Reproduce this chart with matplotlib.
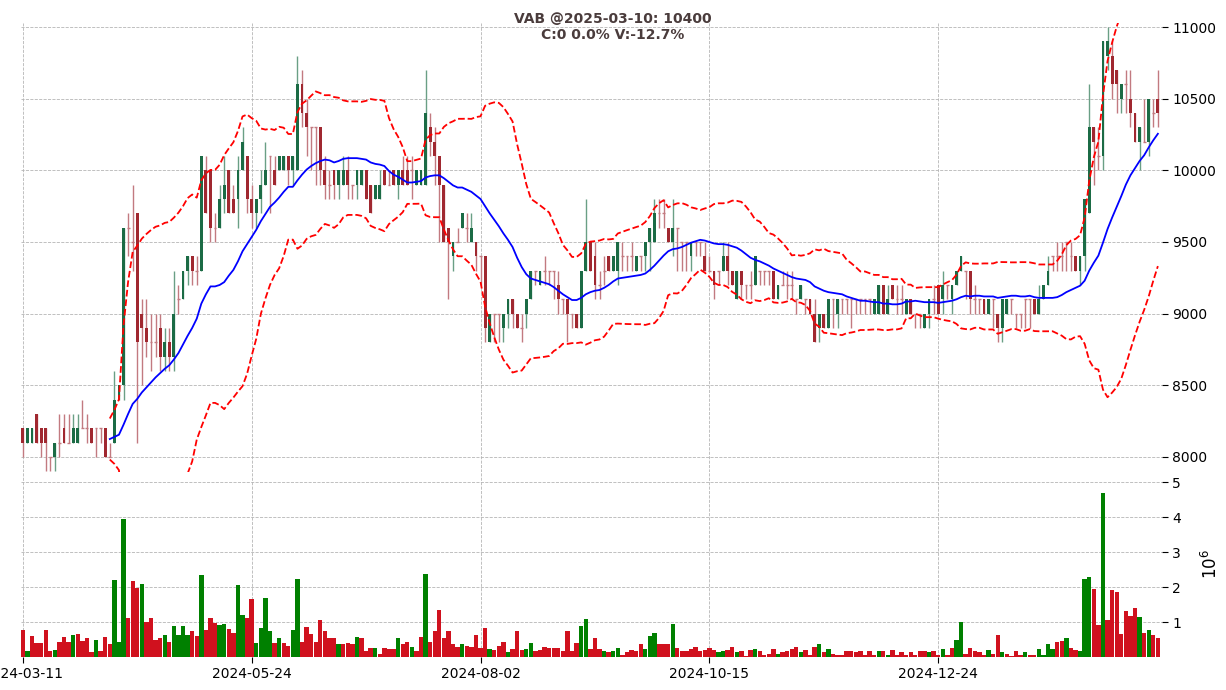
import matplotlib
matplotlib.use('Agg')
import matplotlib.pyplot as plt
import numpy as np
import pandas as pd

ticker = "VAB"
holidays = ["2024-04-18", "2024-04-29", "2024-04-30", "2024-05-01", "2024-09-02", "2024-09-03",
            "2025-01-01", "2025-01-27", "2025-01-28", "2025-01-29", "2025-01-30", "2025-01-31"]
dates = pd.bdate_range("2024-03-11", "2025-03-10", freq="C", holidays=holidays)

# OHLC, one row = 10 sessions
open_ = [8200, 8100, 8100, 8300, 8200, 8200, 8000, 8000, 8100, 8200,
         8100, 8100, 8100, 8200, 8200, 8200, 8200, 8200, 8200, 8000,
         8100, 8400, 8500, 9600, 9500, 9700, 9000, 8900, 8800, 8800,
         8900, 8700, 8800, 8700, 9100, 9100, 9300, 9400, 9300, 9300,
         10000, 10000, 9600, 9600, 9800, 10000, 9800, 9800, 10000, 10100,
         9800, 9700, 9800, 9900, 10100, 10000, 10000, 10000, 10100, 10000,
         10000, 10600, 10400, 10300, 10300, 10300, 10000, 9900, 10000, 9900,
         9900, 10000, 9900, 9900, 9900, 10000, 9900, 9800, 9800, 10000,
         9900, 10000, 9900, 10000, 10000, 10000, 9900, 9900, 9900, 10300,
         10200, 10100, 9900, 9600, 9400, 9500, 9600, 9600, 9500, 9500,
         9400, 9400, 8800, 9000, 9000, 8900, 9000, 9100, 9000, 8900,
         9000, 9100, 9300, 9200, 9300, 9300, 9300, 9200, 9100, 9100,
         9000, 9000, 8900, 9300, 9500, 9400, 9200, 9300, 9400, 9300,
         9300, 9400, 9400, 9400, 9300, 9400, 9400, 9500, 9500, 9700,
         9700, 9600, 9500, 9600, 9500, 9500, 9400, 9500, 9500, 9400,
         9300, 9300, 9300, 9300, 9400, 9300, 9100, 9300, 9200, 9200,
         9200, 9300, 9300, 9300, 9300, 9100, 9200, 9200, 9200, 9100,
         9100, 9100, 9100, 9000, 8900, 9000, 8900, 9100, 9000, 9100,
         9100, 9100, 9100, 9100, 9100, 9100, 9000, 9000, 9200, 9000,
         9200, 9100, 9100, 9000, 9100, 9000, 9000, 8900, 9000, 9100,
         9200, 9100, 9200, 9100, 9200, 9300, 9300, 9300, 9100, 9100,
         9100, 9000, 9100, 9000, 8900, 9000, 9100, 9000, 9000, 9100,
         9100, 9100, 9000, 9100, 9200, 9400, 9400, 9400, 9500, 9400,
         9400, 9300, 9400, 9700, 10300, 10100, 10100, 10800, 10800, 10700,
         10500, 10600, 10500, 10400, 10200, 10200, 10200, 10400, 10500]
high = [8200, 8200, 8200, 8300, 8200, 8200, 8000, 8100, 8300, 8300,
        8300, 8300, 8300, 8400, 8300, 8200, 8200, 8200, 8200, 8100,
        8600, 8500, 9600, 9700, 9900, 9700, 9100, 9100, 9000, 9000,
        9000, 8900, 8900, 9300, 9200, 9300, 9400, 9400, 9400, 10100,
        10100, 10000, 9700, 9900, 10100, 10000, 9900, 10100, 10300, 10100,
        9900, 9800, 10000, 10200, 10100, 10100, 10100, 10100, 10100, 10100,
        10800, 10700, 10500, 10300, 10300, 10300, 10100, 10000, 10000, 10000,
        10100, 10100, 9900, 10000, 10000, 10000, 9900, 9900, 10000, 10000,
        10000, 10000, 10000, 10100, 10100, 10100, 10000, 10000, 10700, 10400,
        10300, 10100, 9900, 9600, 9500, 9600, 9700, 9700, 9700, 9500,
        9400, 9400, 9000, 9000, 9000, 9000, 9100, 9100, 9000, 9000,
        9100, 9300, 9300, 9300, 9400, 9300, 9300, 9300, 9100, 9100,
        9000, 9000, 9300, 9800, 9500, 9500, 9300, 9400, 9400, 9400,
        9500, 9500, 9400, 9500, 9400, 9400, 9500, 9600, 9800, 9800,
        9800, 9600, 9800, 9600, 9500, 9500, 9500, 9500, 9500, 9500,
        9400, 9300, 9300, 9500, 9500, 9300, 9300, 9300, 9200, 9300,
        9400, 9300, 9300, 9300, 9300, 9200, 9300, 9300, 9300, 9100,
        9200, 9100, 9100, 9100, 9000, 9000, 9100, 9100, 9100, 9100,
        9100, 9100, 9100, 9100, 9100, 9100, 9100, 9200, 9200, 9200,
        9200, 9200, 9200, 9100, 9100, 9000, 9000, 9000, 9100, 9200,
        9200, 9300, 9200, 9200, 9300, 9400, 9300, 9300, 9200, 9100,
        9100, 9100, 9100, 9000, 9100, 9100, 9100, 9000, 9000, 9100,
        9100, 9100, 9200, 9200, 9400, 9400, 9500, 9500, 9500, 9500,
        9400, 9400, 9800, 10600, 10300, 10300, 10900, 11000, 10900, 10700,
        10600, 10700, 10700, 10400, 10300, 10500, 10500, 10500, 10700]
low = [8000, 8100, 8100, 8100, 8000, 7900, 7900, 7900, 8000, 8100,
       8100, 8100, 8100, 8200, 8100, 8100, 8000, 8100, 8000, 8000,
       8100, 8400, 8400, 9400, 9300, 8100, 8500, 8700, 8600, 8700,
       8600, 8600, 8600, 8600, 9000, 9100, 9200, 9200, 9200, 9300,
       9700, 9500, 9500, 9600, 9700, 9700, 9700, 9600, 10000, 9700,
       9600, 9600, 9700, 9900, 9700, 9900, 10000, 10000, 9900, 9900,
       10000, 10300, 10100, 10000, 9900, 9900, 9800, 9800, 9800, 9800,
       9900, 9800, 9800, 9800, 9900, 9800, 9700, 9800, 9800, 9900,
       9900, 9900, 9800, 9900, 9900, 9800, 9900, 9900, 9900, 10100,
       9900, 9500, 9500, 9100, 9300, 9500, 9600, 9500, 9500, 9300,
       9200, 8800, 8800, 8800, 8800, 8800, 8900, 8900, 8900, 8800,
       8900, 9100, 9200, 9200, 9200, 9200, 9100, 9000, 9000, 8800,
       8900, 8900, 8900, 9300, 9300, 9100, 9100, 9200, 9300, 9300,
       9200, 9300, 9300, 9300, 9300, 9300, 9300, 9300, 9500, 9600,
       9600, 9500, 9400, 9300, 9300, 9300, 9300, 9400, 9400, 9300,
       9300, 9100, 9200, 9300, 9200, 9200, 9100, 9100, 9100, 9100,
       9200, 9200, 9200, 9200, 9100, 9100, 9200, 9100, 9100, 9000,
       9100, 9000, 9000, 8800, 8800, 8900, 8900, 8900, 8900, 9000,
       9000, 8900, 9000, 9000, 9000, 9000, 9000, 9000, 9000, 9000,
       9100, 9000, 9000, 9000, 9000, 8900, 8900, 8900, 8900, 9000,
       9000, 9000, 9100, 9000, 9200, 9300, 9100, 9000, 9000, 9000,
       9000, 9000, 8900, 8800, 8800, 9000, 9000, 8900, 8900, 8900,
       8900, 9000, 9000, 9100, 9200, 9300, 9300, 9300, 9300, 9300,
       9300, 9200, 9300, 9700, 9900, 10000, 10000, 10700, 10500, 10400,
       10400, 10400, 10300, 10200, 10000, 10200, 10100, 10300, 10300]
close = [8100, 8200, 8200, 8100, 8100, 8100, 8000, 8100, 8100, 8100,
         8100, 8200, 8200, 8200, 8200, 8100, 8200, 8200, 8000, 8000,
         8400, 8500, 9600, 9600, 9500, 8800, 8900, 8800, 8800, 8800,
         8700, 8800, 8700, 9000, 9100, 9300, 9400, 9300, 9300, 10100,
         9700, 9600, 9600, 9800, 9900, 9700, 9700, 10000, 10200, 9800,
         9700, 9800, 9900, 10000, 10100, 9900, 10100, 10100, 10000, 10100,
         10600, 10400, 10300, 10300, 10300, 10000, 9900, 9900, 9900, 10000,
         10000, 9900, 9900, 10000, 10000, 9800, 9700, 9900, 9900, 9900,
         9900, 9900, 10000, 9900, 9900, 10000, 10000, 10000, 10400, 10200,
         10100, 9900, 9500, 9500, 9500, 9500, 9700, 9600, 9600, 9400,
         9400, 8900, 9000, 9000, 9000, 9000, 9100, 9000, 8900, 8900,
         9100, 9300, 9300, 9300, 9300, 9300, 9300, 9100, 9100, 9000,
         9000, 8900, 9300, 9500, 9300, 9200, 9200, 9300, 9300, 9400,
         9500, 9400, 9400, 9400, 9400, 9400, 9500, 9600, 9700, 9700,
         9700, 9500, 9600, 9600, 9500, 9500, 9500, 9500, 9500, 9300,
         9300, 9200, 9300, 9400, 9300, 9200, 9300, 9200, 9200, 9200,
         9400, 9300, 9300, 9300, 9100, 9200, 9200, 9200, 9200, 9100,
         9200, 9100, 9000, 8800, 9000, 8900, 9100, 9100, 9100, 9100,
         9100, 9100, 9100, 9100, 9100, 9100, 9100, 9200, 9000, 9100,
         9100, 9100, 9100, 9100, 9000, 9000, 9000, 9000, 9100, 9100,
         9000, 9200, 9200, 9200, 9300, 9400, 9300, 9100, 9100, 9100,
         9000, 9100, 9100, 8900, 9100, 9100, 9100, 9000, 9000, 9100,
         9100, 9000, 9100, 9200, 9300, 9400, 9400, 9400, 9500, 9400,
         9300, 9400, 9800, 10300, 10200, 10100, 10900, 10900, 10600, 10600,
         10600, 10600, 10400, 10200, 10300, 10200, 10500, 10400, 10400]
# volume in millions
volume = [0.78, 0.18, 0.61, 0.41, 0.41, 0.78, 0.18, 0.21, 0.44, 0.58,
          0.44, 0.63, 0.67, 0.47, 0.53, 0.13, 0.50, 0.16, 0.58, 0.36,
          2.20, 0.44, 3.94, 1.12, 2.17, 1.97, 2.08, 1.00, 1.12, 0.50,
          0.55, 0.63, 0.44, 0.88, 0.63, 0.88, 0.63, 0.73, 0.61, 2.34,
          0.78, 1.12, 0.98, 0.92, 0.95, 0.81, 0.69, 2.05, 1.20, 1.12,
          1.65, 0.41, 0.84, 1.68, 0.73, 0.41, 0.53, 0.41, 0.32, 0.78,
          2.24, 0.44, 0.86, 0.67, 0.44, 1.06, 0.73, 0.53, 0.53, 0.38,
          0.38, 0.41, 0.36, 0.58, 0.55, 0.18, 0.26, 0.26, 0.10, 0.26,
          0.24, 0.24, 0.53, 0.38, 0.44, 0.30, 0.16, 0.58, 2.36, 0.44,
          0.75, 1.35, 0.53, 0.75, 0.36, 0.30, 0.38, 0.32, 0.30, 0.63,
          0.26, 0.84, 0.24, 0.20, 0.32, 0.44, 0.15, 0.24, 0.75, 0.21,
          0.24, 0.41, 0.18, 0.21, 0.30, 0.26, 0.26, 0.26, 0.18, 0.73,
          0.18, 0.41, 0.88, 1.08, 0.24, 0.55, 0.24, 0.16, 0.13, 0.16,
          0.26, 0.05, 0.13, 0.21, 0.16, 0.36, 0.24, 0.61, 0.69, 0.38,
          0.38, 0.38, 0.95, 0.26, 0.16, 0.16, 0.24, 0.30, 0.16, 0.21,
          0.26, 0.21, 0.13, 0.18, 0.21, 0.30, 0.13, 0.18, 0.03, 0.21,
          0.24, 0.16, 0.05, 0.10, 0.24, 0.08, 0.13, 0.16, 0.24, 0.30,
          0.13, 0.21, 0.05, 0.30, 0.36, 0.13, 0.24, 0.10, 0.05, 0.05,
          0.18, 0.16, 0.13, 0.16, 0.05, 0.16, 0.05, 0.18, 0.16, 0.05,
          0.21, 0.05, 0.13, 0.05, 0.13, 0.05, 0.16, 0.16, 0.13, 0.16,
          0.05, 0.24, 0.05, 0.26, 0.50, 1.00, 0.08, 0.26, 0.16, 0.13,
          0.05, 0.21, 0.10, 0.63, 0.13, 0.08, 0.03, 0.16, 0.05, 0.13,
          0.05, 0.05, 0.24, 0.05, 0.38, 0.24, 0.44, 0.47, 0.55, 0.26,
          0.21, 0.16, 2.22, 2.28, 1.95, 0.92, 4.70, 1.06, 1.91, 1.87,
          0.67, 1.31, 1.18, 1.41, 1.15, 0.69, 0.78, 0.63, 0.55]

o, h, l, c = (np.array(a, dtype=float) for a in (open_, high, low, close))
v = np.array(volume)
idx = np.arange(len(c))

# indicators: 20 day SMA + bollinger
s = pd.Series(c)
ma = s.rolling(20).mean()
sd = s.rolling(20).std()

W, H = 1226, 690
fig = plt.figure(figsize=(W / 100, H / 100), dpi=100)
x0, x1 = 21, 1162
ax = fig.add_axes([x0 / W, 1 - 472 / H, (x1 - x0) / W, (472 - 23) / H])
axv = fig.add_axes([x0 / W, 1 - 657 / H, (x1 - x0) / W, (657 - 472) / H], sharex=ax)

## candles
G_BODY, R_BODY = '#1b6b45', '#a02830'
G_WICK, R_WICK = '#6a9f85', '#c27a80'
up = c > o
flat = c == o
wick_col = np.where(up, G_WICK, R_WICK)
body_col = np.where(up, G_BODY, R_BODY)
ax.vlines(idx, l, h, colors=wick_col, lw=1.0, zorder=2)
ax.bar(idx[~flat], np.abs(c - o)[~flat], bottom=np.minimum(o, c)[~flat], width=0.62,
       color=body_col[~flat], zorder=3)
ax.hlines(c[flat], idx[flat] - 0.31, idx[flat] + 0.31, colors=R_WICK, lw=1.0, zorder=3)

ax.plot(idx, ma, color='blue', lw=1.3, zorder=4)
ax.plot(idx, ma + 2 * sd, color='red', ls='--', lw=1.3, zorder=4)
ax.plot(idx, ma - 2 * sd, color='red', ls='--', lw=1.3, zorder=4)

## volume
prev = np.r_[np.nan, c[:-1]]
vol_col = np.where(c > prev, 'green', '#d0111e')
axv.bar(idx, v, width=0.95, color=vol_col, zorder=3)

# title from last session
chg = c[-1] - c[-2]
title = (f"{ticker} @{dates[-1]:%Y-%m-%d}: {c[-1]:.0f}\n"
         f"C:{chg:.0f} {chg / c[-2] * 100:.1f}% V:{(v[-1] / v[-2] - 1) * 100:.1f}%")
fig.text(0.5, 1 - 12 / H, title, ha='center', va='top', fontsize=10,
         fontweight='bold', color='#4a3c3c', linespacing=1.15)

## axes styling
ax.set_xlim(-0.4, 248.9)
ax.set_ylim(7895, 11028)
ax.set_yticks(np.arange(8000, 11001, 500))
axv.set_ylim(0, 5.29)
axv.set_yticks([1, 2, 3, 4, 5])
ticks = idx[::50]
axv.set_xticks(ticks)
axv.set_xticklabels([f"{dates[t]:%Y-%m-%d}" for t in ticks])

for a in (ax, axv):
    for sp in a.spines.values():
        sp.set_visible(False)
    a.yaxis.tick_right()
    a.grid(True, ls='--', color='#b5b5b5', lw=0.6, zorder=0)
    a.tick_params(length=4, width=0.8, labelsize=10)
ax.tick_params(axis='x', bottom=False, labelbottom=False)
axv.yaxis.set_label_position('right')
axv.set_ylabel(r'$10^{6}$', fontsize=12, labelpad=14)

fig.savefig('out.png', dpi=100)
